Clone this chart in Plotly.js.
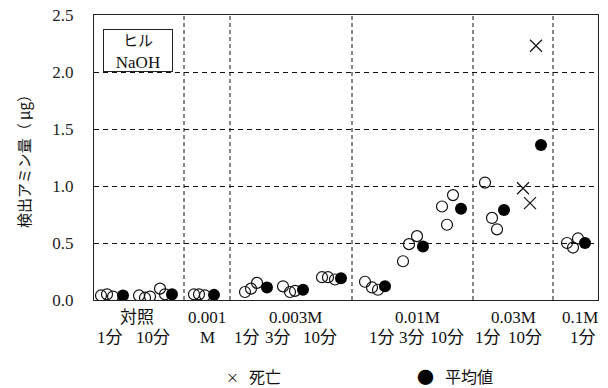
<!DOCTYPE html>
<html>
<head>
<meta charset="utf-8">
<script src="https://cdn.plot.ly/plotly-3.0.1.min.js"></script>
<style>html,body{margin:0;padding:0;background:#fff;}#chart{width:608px;height:388px;}</style>
</head>
<body>
<div id="chart"></div>
<script>
// Individual measurements (open circles): horizontal slot position and amine amount (μg)
const openX = [7, 13, 19,
  45, 51, 56, 66, 71,
  100, 105, 111,
  151, 157, 163,
  189, 196, 201,
  228, 234, 241,
  271, 278, 284,
  309, 315, 323,
  348, 353, 359,
  391, 398, 403,
  473, 479, 484];
const openY = [0.04, 0.05, 0.03,
  0.04, 0.02, 0.03, 0.10, 0.05,
  0.05, 0.05, 0.04,
  0.07, 0.10, 0.15,
  0.12, 0.07, 0.08,
  0.20, 0.20, 0.18,
  0.16, 0.11, 0.09,
  0.34, 0.49, 0.56,
  0.82, 0.66, 0.92,
  1.03, 0.72, 0.62,
  0.50, 0.46, 0.54];

// Dead animals (crosses)
const deadX = [429, 436, 442];
const deadY = [0.98, 0.85, 2.23];

// Group means (filled circles)
const meanX = [29, 78, 120, 173, 209, 247, 291, 329, 367, 410, 447, 491];
const meanY = [0.04, 0.05, 0.045, 0.11, 0.09, 0.19, 0.12, 0.47, 0.80, 0.79, 1.36, 0.50];

// Concentration group boundaries (dashed vertical dividers)
const dividers = [90, 136, 258, 379, 459];

// Concentration labels (first row) and exposure-time labels (second row)
const concLabels = ['対照', '0.001', '0.003M', '0.01M', '0.03M', '0.1M'];
const concX = [43, 113, 201, 323, 419, 486];
const timeLabels = ['1分', '10分', 'M', '1分', '3分', '10分', '1分', '3分', '10分', '1分', '10分', '1分'];
const timeX = [16, 59, 113, 153, 184, 226, 288, 318, 353, 394, 431, 489];

const serif = 'Liberation Serif, "Noto Sans CJK JP", serif';
const gothic = '"Noto Sans CJK JP", sans-serif';

const traces = [
  {
    x: openX, y: openY, type: 'scatter', mode: 'markers', name: '個体',
    marker: {symbol: 'circle-open', size: 11, color: '#111', line: {width: 1.2, color: '#111'}},
    showlegend: false, hoverinfo: 'y'
  },
  {
    x: deadX, y: deadY, type: 'scatter', mode: 'markers', name: '死亡',
    marker: {symbol: 'x-thin-open', size: 12, color: '#111', line: {width: 1.2, color: '#111'}},
    showlegend: false, hoverinfo: 'y'
  },
  {
    x: meanX, y: meanY, type: 'scatter', mode: 'markers', name: '平均値',
    marker: {symbol: 'circle', size: 12, color: '#000'},
    showlegend: false, hoverinfo: 'y'
  }
];

const shapes = dividers.map(d => ({
  type: 'line', xref: 'x', yref: 'paper', x0: d, x1: d, y0: 0, y1: 1,
  line: {color: '#111', width: 1, dash: '4px,3px'}, layer: 'below'
}));

const annotations = [];
concLabels.forEach((t, i) => annotations.push({
  text: t, x: concX[i], y: -0.063, xref: 'x', yref: 'paper',
  xanchor: 'center', yanchor: 'middle', showarrow: false,
  font: {family: serif, size: 17, color: '#111'}
}));
timeLabels.forEach((t, i) => annotations.push({
  text: t, x: timeX[i], y: -0.133, xref: 'x', yref: 'paper',
  xanchor: 'center', yanchor: 'middle', showarrow: false,
  font: {family: serif, size: 17, color: '#111'}
}));
// Keys for the marker types, below the chart
const keyY = -0.267;
annotations.push({
  text: '×', x: 138, y: keyY, xref: 'x', yref: 'paper',
  xanchor: 'center', yanchor: 'middle', showarrow: false,
  font: {family: gothic, size: 13, color: '#111'}
});
annotations.push({
  text: '死亡', x: 171, y: keyY, xref: 'x', yref: 'paper',
  xanchor: 'center', yanchor: 'middle', showarrow: false,
  font: {family: gothic, size: 16, color: '#111'}
});
annotations.push({
  text: '●', x: 331, y: keyY, xref: 'x', yref: 'paper',
  xanchor: 'center', yanchor: 'middle', showarrow: false,
  font: {family: gothic, size: 17, color: '#000'}
});
annotations.push({
  text: '平均値', x: 375, y: keyY, xref: 'x', yref: 'paper',
  xanchor: 'center', yanchor: 'middle', showarrow: false,
  font: {family: gothic, size: 16, color: '#111'}
});
// Species / reagent box
annotations.push({
  text: '<span style="font-family:\'Noto Sans CJK JP\';font-size:15px">ヒル</span><br>NaOH',
  x: 44, y: 2.19, xref: 'x', yref: 'y',
  xanchor: 'center', yanchor: 'middle', showarrow: false,
  width: 66, height: 39, borderpad: 1, borderwidth: 1, bordercolor: '#222', bgcolor: '#fff',
  font: {family: serif, size: 17, color: '#111'}
});

const layout = {
  width: 608, height: 388,
  margin: {l: 94, r: 10, t: 15, b: 88},
  paper_bgcolor: '#fff', plot_bgcolor: '#fff',
  showlegend: false,
  xaxis: {
    range: [0, 504], showticklabels: false, ticks: '', showgrid: false, zeroline: false,
    showline: true, mirror: true, linecolor: '#222', linewidth: 1, fixedrange: true
  },
  yaxis: {
    range: [0, 2.5], dtick: 0.5, tick0: 0, tickformat: '.1f',
    ticks: '', ticklabelstandoff: 16,
    showgrid: true, gridcolor: '#111', gridwidth: 1, griddash: '5px,4px',
    zeroline: false, showline: true, mirror: true, linecolor: '#222', linewidth: 1,
    tickfont: {family: serif, size: 17, color: '#222'},
    title: {text: '検出アミン量（ μg）', font: {family: gothic, size: 15, color: '#111'}, standoff: 18},
    fixedrange: true
  },
  shapes: shapes,
  annotations: annotations
};

Plotly.newPlot('chart', traces, layout, {displayModeBar: false, staticPlot: true});
</script>
</body>
</html>
